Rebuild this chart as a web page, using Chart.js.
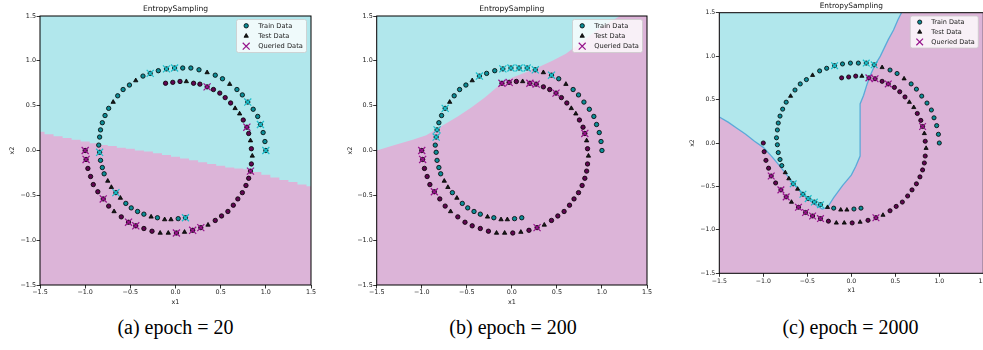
<!DOCTYPE html>
<html>
<head>
<meta charset="utf-8">
<script src="https://cdn.jsdelivr.net/npm/chart.js@4.4.0/dist/chart.umd.min.js"></script>
<style>
    html, body { margin: 0; padding: 0; background: #fff; }
    body { width: 983px; height: 350px; position: relative; overflow: hidden; }
    canvas { position: absolute; top: 0; }
    .caption {
        position: absolute; top: 314px; height: 26px; line-height: 26px;
        font-family: 'Liberation Serif', 'Times New Roman', serif; font-size: 20px;
        color: #000; white-space: nowrap; transform: translateX(-50%);
    }
</style>
</head>
<body>
<canvas id="chartA" width="330" height="310" style="left:0px"></canvas>
<canvas id="chartB" width="330" height="310" style="left:330px"></canvas>
<canvas id="chartC" width="340" height="310" style="left:660px"></canvas>
<div class="caption" style="left:175.5px">(a) epoch = 20</div>
<div class="caption" style="left:513px">(b) epoch = 200</div>
<div class="caption" style="left:850.5px">(c) epoch = 2000</div>
<script>
// axis ticks shared by all three panels
const tickValues = [-1.5, -1.0, -0.5, 0.0, 0.5, 1.0, 1.5]
const legendLabels = ['Train Data', 'Test Data', 'Queried Data']
const panelTitle = 'EntropySampling'

// class 0 spiral (cyan)
const cyanX = [1.00, 0.99, 0.97, 0.94, 0.91, 0.86, 0.80, 0.74, 0.68, 0.60,
    0.52, 0.44, 0.35, 0.26, 0.17, 0.08, -0.01, -0.10, -0.19, -0.28,
    -0.36, -0.44, -0.51, -0.58, -0.64, -0.69, -0.74, -0.78, -0.81, -0.83,
    -0.84, -0.85, -0.84, -0.83, -0.81, -0.79, -0.75, -0.71, -0.66, -0.61,
    -0.55, -0.49, -0.42, -0.35, -0.27, -0.20, -0.12, -0.05, 0.03, 0.11]
const cyanY = [0.00, 0.10, 0.20, 0.29, 0.38, 0.46, 0.54, 0.62, 0.68, 0.74,
    0.80, 0.84, 0.87, 0.90, 0.92, 0.92, 0.92, 0.91, 0.89, 0.86,
    0.83, 0.78, 0.73, 0.68, 0.61, 0.54, 0.47, 0.39, 0.31, 0.23,
    0.15, 0.06, -0.02, -0.11, -0.19, -0.26, -0.34, -0.41, -0.47, -0.53,
    -0.59, -0.64, -0.68, -0.71, -0.74, -0.75, -0.77, -0.77, -0.76, -0.75]

// class 1 spiral (purple)
const purpleX = [-1.00, -0.99, -0.97, -0.94, -0.91, -0.86, -0.80, -0.74, -0.68, -0.60,
    -0.52, -0.44, -0.35, -0.26, -0.17, -0.08, 0.01, 0.10, 0.19, 0.28,
    0.36, 0.44, 0.51, 0.58, 0.64, 0.69, 0.74, 0.78, 0.81, 0.83,
    0.84, 0.85, 0.84, 0.83, 0.81, 0.79, 0.75, 0.71, 0.66, 0.61,
    0.55, 0.49, 0.42, 0.35, 0.27, 0.20, 0.12, 0.05, -0.03, -0.11]
const purpleY = [0.00, -0.10, -0.20, -0.29, -0.38, -0.46, -0.54, -0.62, -0.68, -0.74,
    -0.80, -0.84, -0.87, -0.90, -0.92, -0.92, -0.92, -0.91, -0.89, -0.86,
    -0.83, -0.78, -0.73, -0.68, -0.61, -0.54, -0.47, -0.39, -0.31, -0.23,
    -0.15, -0.06, 0.02, 0.11, 0.19, 0.26, 0.34, 0.41, 0.47, 0.53,
    0.59, 0.64, 0.68, 0.71, 0.74, 0.75, 0.77, 0.77, 0.76, 0.75]

// which points are test points (triangles)
const cyanTest = [9, 12, 21, 25, 36, 37, 39, 44, 46, 47]
const purpleTest = [8, 14, 15, 17, 20, 31, 33, 37, 38, 46]

// queried points per epoch
const queriedCyanA = [0, 3, 6, 16, 17, 19, 32, 38, 49]
const queriedPurpleA = [0, 1, 6, 10, 11, 16, 18, 19, 29, 35, 43]
const queriedCyanB = [11, 13, 14, 15, 16, 17, 20, 26, 29, 30]
const queriedPurpleB = [0, 1, 5, 19, 34, 41, 44, 45, 48, 49]
const queriedCyanC = [13, 14, 18, 38, 40, 41, 42, 43]
const queriedPurpleC = [4, 6, 7, 9, 10, 11, 12, 19, 34, 42, 44, 45]

// decision boundary (cyan region lies above it)
const boundaryAX = [-1.5, -1.4, -1.3, -1.2, -1.1, -1.0, -0.9, -0.8, -0.7, -0.6, -0.5, -0.4, -0.3, -0.2, -0.1,
    0.0, 0.1, 0.2, 0.3, 0.4, 0.5, 0.6, 0.7, 0.8, 0.9, 1.0, 1.1, 1.2, 1.3, 1.4, 1.5]
const boundaryAY = [0.21, 0.18, 0.16, 0.14, 0.12, 0.10, 0.08, 0.06, 0.05, 0.03, 0.02, 0.00, -0.01, -0.03, -0.05,
    -0.07, -0.09, -0.11, -0.13, -0.15, -0.17, -0.19, -0.20, -0.21, -0.24, -0.27, -0.30, -0.33, -0.35, -0.38, -0.40]

const boundaryBX = [-1.5, -1.3, -1.1, -0.95, -0.85, -0.75, -0.6, -0.45, -0.3, -0.15, 0.0, 0.15, 0.3, 0.45, 0.6, 0.75, 0.9, 1.05, 1.2]
const boundaryBY = [0.00, 0.06, 0.12, 0.17, 0.23, 0.29, 0.38, 0.48, 0.59, 0.72, 0.81, 0.87, 0.93, 1.00, 1.08, 1.19, 1.31, 1.41, 1.5]

const boundaryCX = [-1.5, -1.4, -1.3, -1.2, -1.1, -1.0, -0.9, -0.8, -0.7, -0.6, -0.5, -0.4, -0.33, -0.27, -0.2,
    -0.1, 0.0, 0.05, 0.1, 0.1, 0.14, 0.18, 0.22, 0.27, 0.33, 0.42, 0.48, 0.53, 0.57]
const boundaryCY = [0.30, 0.24, 0.17, 0.10, 0.02, -0.05, -0.16, -0.28, -0.41, -0.53, -0.63, -0.72, -0.76, -0.74, -0.63,
    -0.49, -0.37, -0.27, -0.15, 0.45, 0.55, 0.68, 0.79, 0.90, 1.00, 1.19, 1.30, 1.42, 1.5]

const regionCyan = 'rgb(177, 231, 236)'
const regionPink = 'rgb(220, 180, 216)'
const cyanFill = 'rgb(12, 140, 150)'
const purpleFill = 'rgb(95, 5, 80)'
const testFill = 'rgb(25, 25, 25)'
const cyanCross = 'rgb(30, 190, 202)'
const purpleCross = 'rgb(150, 20, 140)'
const fontFamily = "'DejaVu Sans', sans-serif"

function pick(xs, ys, idx) {
    return idx.map(i => ({ x: xs[i], y: ys[i] }))
}

function trainIndices(xs, test) {
    return xs.map((v, i) => i).filter(i => !test.includes(i))
}

function zip(xs, ys) {
    return xs.map((x, i) => ({ x: x, y: ys[i] }))
}

function formatTick(v) {
    const s = Math.abs(v).toFixed(1)
    return v < 0 ? '\u2212' + s : s
}

const framePlugin = {
    id: 'frameAndLegend',
    beforeDatasetsDraw(chart) {
        const { ctx, chartArea } = chart
        ctx.save()
        ctx.fillStyle = regionPink
        ctx.fillRect(chartArea.left, chartArea.top, chartArea.right - chartArea.left, chartArea.bottom - chartArea.top)
        ctx.restore()
    },
    afterDraw(chart, args, opts) {
        const { ctx, chartArea } = chart
        ctx.save()
        ctx.strokeStyle = '#000'
        ctx.lineWidth = 1
        ctx.strokeRect(chartArea.left, chartArea.top, chartArea.right - chartArea.left, chartArea.bottom - chartArea.top)

        const left = chartArea.right - opts.right - opts.width
        const top = chartArea.top + opts.top
        ctx.beginPath()
        ctx.roundRect(left, top, opts.width, opts.height, 2)
        ctx.fillStyle = 'rgba(255, 255, 255, 0.8)'
        ctx.fill()
        ctx.strokeStyle = '#cccccc'
        ctx.lineWidth = 0.8
        ctx.stroke()

        const markers = [
            { pointStyle: 'circle', radius: opts.circle, borderWidth: 0.8, fill: cyanFill, stroke: '#000' },
            { pointStyle: 'triangle', radius: opts.triangle, borderWidth: 0.8, fill: testFill, stroke: '#000' },
            { pointStyle: 'crossRot', radius: opts.cross, borderWidth: 1.2, fill: purpleCross, stroke: purpleCross }
        ]
        ctx.font = opts.fontSize + 'px ' + fontFamily
        ctx.textBaseline = 'middle'
        legendLabels.forEach((label, i) => {
            const y = top + opts.firstRow + i * opts.rowGap
            const m = markers[i]
            ctx.fillStyle = m.fill
            ctx.strokeStyle = m.stroke
            ctx.lineWidth = m.borderWidth
            Chart.helpers.drawPoint(ctx, m, left + opts.markerX, y)
            ctx.fillStyle = '#222'
            ctx.fillText(label, left + opts.textX, y)
        })
        ctx.restore()
    }
}

function axis(p, horizontal) {
    return {
        type: 'linear',
        position: horizontal ? 'bottom' : 'left',
        min: -1.5,
        max: 1.5,
        afterBuildTicks: scale => { scale.ticks = tickValues.map(v => ({ value: v })) },
        afterFit: scale => {
            if (horizontal) scale.height = p.height - p.area.bottom
            else scale.width = p.area.left
        },
        border: { display: false },
        grid: { drawOnChartArea: false, drawTicks: true, tickLength: 3.5, tickColor: '#000', tickWidth: 0.8 },
        ticks: {
            padding: 0.5,
            color: '#222',
            autoSkip: false,
            maxRotation: 0,
            font: { family: fontFamily, size: p.tickSize },
            callback: v => formatTick(v)
        },
        title: {
            display: true,
            text: horizontal ? 'x1' : 'x2',
            color: '#222',
            font: { family: fontFamily, size: p.tickSize },
            padding: horizontal ? { top: 0, bottom: p.xTitlePad } : { top: p.yTitlePad, bottom: 0 }
        }
    }
}

function makePanel(p) {
    const s = p.markerScale
    const datasets = [
        {
            data: zip(p.boundaryX, p.boundaryY),
            fill: 'end',
            backgroundColor: regionCyan,
            borderColor: p.edgeColor,
            borderWidth: p.edgeWidth,
            pointRadius: 0,
            stepped: p.stepped,
            tension: 0,
            order: 10
        },
        {
            data: pick(cyanX, cyanY, trainIndices(cyanX, cyanTest)),
            showLine: false, pointStyle: 'circle', pointRadius: 2.2 * s,
            pointBackgroundColor: cyanFill, pointBorderColor: '#000', pointBorderWidth: 0.8, order: 3
        },
        {
            data: pick(purpleX, purpleY, trainIndices(purpleX, purpleTest)),
            showLine: false, pointStyle: 'circle', pointRadius: 2.2 * s,
            pointBackgroundColor: purpleFill, pointBorderColor: '#000', pointBorderWidth: 0.8, order: 3
        },
        {
            data: pick(cyanX, cyanY, cyanTest),
            showLine: false, pointStyle: 'triangle', pointRadius: 2.5 * s,
            pointBackgroundColor: testFill, pointBorderColor: '#000', pointBorderWidth: 0.8, order: 2
        },
        {
            data: pick(purpleX, purpleY, purpleTest),
            showLine: false, pointStyle: 'triangle', pointRadius: 2.5 * s,
            pointBackgroundColor: testFill, pointBorderColor: '#000', pointBorderWidth: 0.8, order: 2
        },
        {
            data: pick(cyanX, cyanY, p.queriedCyan),
            showLine: false, pointStyle: 'crossRot', pointRadius: 5 * s,
            pointBorderColor: cyanCross, pointBorderWidth: 1.2, order: 1
        },
        {
            data: pick(purpleX, purpleY, p.queriedPurple),
            showLine: false, pointStyle: 'crossRot', pointRadius: 5 * s,
            pointBorderColor: purpleCross, pointBorderWidth: 1.2, order: 1
        }
    ]

    new Chart(document.getElementById(p.id), {
        type: 'line',
        data: { datasets: datasets },
        options: {
            responsive: false,
            animation: false,
            events: [],
            layout: { padding: { left: 0, right: p.width - p.area.right, top: 0, bottom: 0 } },
            scales: { x: axis(p, true), y: axis(p, false) },
            plugins: {
                legend: { display: false },
                tooltip: { enabled: false },
                title: {
                    display: true,
                    text: panelTitle,
                    fullSize: false,
                    color: '#111',
                    font: { family: fontFamily, size: p.titleSize, weight: 'normal', lineHeight: 1.2 },
                    padding: { top: p.titlePadTop, bottom: p.area.top - p.titlePadTop - p.titleSize * 1.2 }
                },
                frameAndLegend: p.legend
            }
        },
        plugins: [framePlugin]
    })
}

const legendAB = { top: 3.5, right: 4.5, width: 70, height: 33, firstRow: 6.3, rowGap: 10.2, markerX: 9.7, textX: 21.7, fontSize: 6.7, circle: 2.2, triangle: 2.5, cross: 4.9 }

makePanel({
    id: 'chartA', width: 330, height: 310,
    area: { left: 40, right: 311, top: 16, bottom: 285 },
    titleSize: 7.6, titlePadTop: 4.7, tickSize: 6.4, yTitlePad: 8.4, xTitlePad: 3.8,
    markerScale: 1, boundaryX: boundaryAX, boundaryY: boundaryAY, stepped: 'middle',
    edgeColor: regionCyan, edgeWidth: 0,
    queriedCyan: queriedCyanA, queriedPurple: queriedPurpleA, legend: legendAB
})

makePanel({
    id: 'chartB', width: 330, height: 310,
    area: { left: 46.7, right: 317, top: 16, bottom: 285 },
    titleSize: 7.6, titlePadTop: 4.7, tickSize: 6.4, yTitlePad: 16.8, xTitlePad: 3.8,
    markerScale: 1, boundaryX: boundaryBX, boundaryY: boundaryBY, stepped: false,
    edgeColor: regionCyan, edgeWidth: 0,
    queriedCyan: queriedCyanB, queriedPurple: queriedPurpleB, legend: legendAB
})

makePanel({
    id: 'chartC', width: 340, height: 310,
    area: { left: 59.3, right: 323.3, top: 12.7, bottom: 273.3 },
    titleSize: 7.4, titlePadTop: 1.6, tickSize: 6.2, yTitlePad: 28.2, xTitlePad: 16.2,
    markerScale: 0.95, boundaryX: boundaryCX, boundaryY: boundaryCY, stepped: false,
    edgeColor: 'rgba(80, 165, 215, 0.9)', edgeWidth: 1.3,
    queriedCyan: queriedCyanC, queriedPurple: queriedPurpleC,
    legend: { top: 3.3, right: 5, width: 68, height: 32, firstRow: 6.1, rowGap: 9.9, markerX: 9.4, textX: 21, fontSize: 6.5, circle: 2.1, triangle: 2.4, cross: 4.7 }
})
</script>
</body>
</html>
